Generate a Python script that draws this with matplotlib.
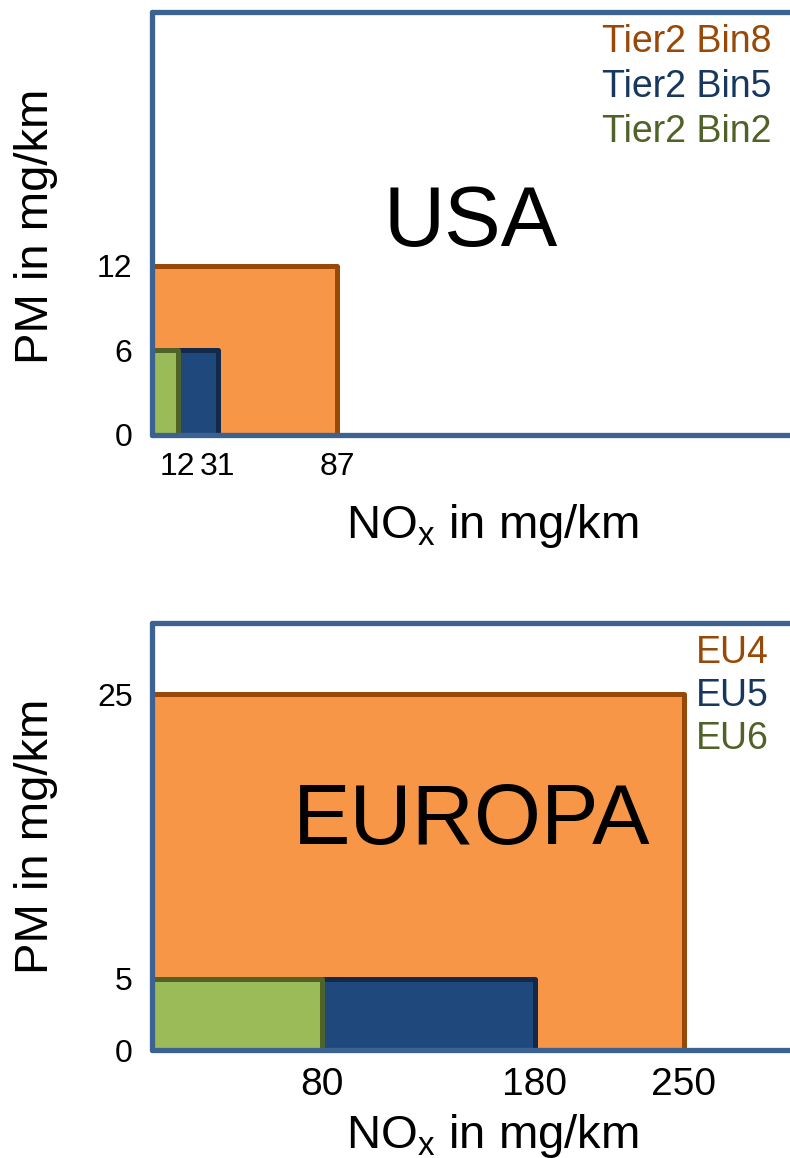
import matplotlib
matplotlib.use("Agg")
import matplotlib.pyplot as plt

plt.rcParams["font.family"] = ["Liberation Sans", "DejaVu Sans"]
plt.rcParams["mathtext.fontset"] = "custom"
plt.rcParams["mathtext.rm"] = "Liberation Sans"

# Emission limits: NOx (mg/km) and PM (mg/km)
usa_labels = ["Tier2 Bin8", "Tier2 Bin5", "Tier2 Bin2"]
usa_nox = [87, 31, 12]
usa_pm = [12, 6, 6]

eu_labels = ["EU4", "EU5", "EU6"]
eu_nox = [250, 180, 80]
eu_pm = [25, 5, 5]

usa_xticks = [12, 31, 87]
usa_yticks = [0, 6, 12]
eu_xticks = [80, 180, 250]
eu_yticks = [0, 5, 25]

FILLS = ["#F79646", "#1F497D", "#9BBB59"]
EDGES = ["#984807", "#12294A", "#4F6228"]
TEXTC = ["#984807", "#17375E", "#4F6228"]
SPINE = "#3C6291"

W, H = 790, 1158
fig = plt.figure(figsize=(W / 100, H / 100), dpi=100)


def frac(x, y):
    return x / W, 1 - y / H


def panel(rect_px, nox, pm, xticks, yticks, xt_size, yt_size):
    l, t, r, b = rect_px
    ax = fig.add_axes([l / W, 1 - b / H, (r - l) / W, (b - t) / H])
    ax.set_xlim(0, 300)
    ax.set_ylim(0, 30)
    for w, h, fc, ec in zip(nox, pm, FILLS, EDGES):
        ax.bar(0, h, width=w, align="edge", color=fc, edgecolor=ec,
               linewidth=3.6, joinstyle="round", zorder=2)
    for side in ["left", "top", "bottom"]:
        ax.spines[side].set_color(SPINE)
        ax.spines[side].set_linewidth(3.8)
        ax.spines[side].set_zorder(5)
        ax.spines[side].set_capstyle("round")
    ax.spines["right"].set_visible(False)
    ax.set_xticks(xticks)
    ax.set_yticks(yticks)
    ax.tick_params(axis="x", length=0, pad=12, labelsize=xt_size)
    ax.tick_params(axis="y", length=0, pad=14, labelsize=yt_size)
    return ax


ax1 = panel((152, 12, 790, 435), usa_nox, usa_pm, usa_xticks, usa_yticks, 23, 23)
ax2 = panel((152, 623, 790, 1050), eu_nox, eu_pm, eu_xticks, eu_yticks, 28, 23)

# Region titles
fig.text(*frac(471, 224), "USA", fontsize=61, ha="center", va="center")
fig.text(*frac(472, 822), "EUROPA", fontsize=62, ha="center", va="center")

# Series labels
for i, (lab, c) in enumerate(zip(usa_labels, TEXTC)):
    fig.text(*frac(772, 42 + 45 * i), lab, color=c, fontsize=27,
             ha="right", va="center")
for i, (lab, c) in enumerate(zip(eu_labels, TEXTC)):
    fig.text(*frac(769, 653 + 43 * i), lab, color=c, fontsize=27,
             ha="right", va="center")

# Axis titles
for yc in (226, 836):
    fig.text(*frac(36, yc), "PM in mg/km", fontsize=34, rotation=90,
             ha="center", va="center")
for yb in (538, 1148):
    fig.text(*frac(492, yb), r"NO$_\mathregular{x}$ in mg/km", fontsize=34,
             ha="center", va="baseline")

fig.savefig("out.png", dpi=100)
